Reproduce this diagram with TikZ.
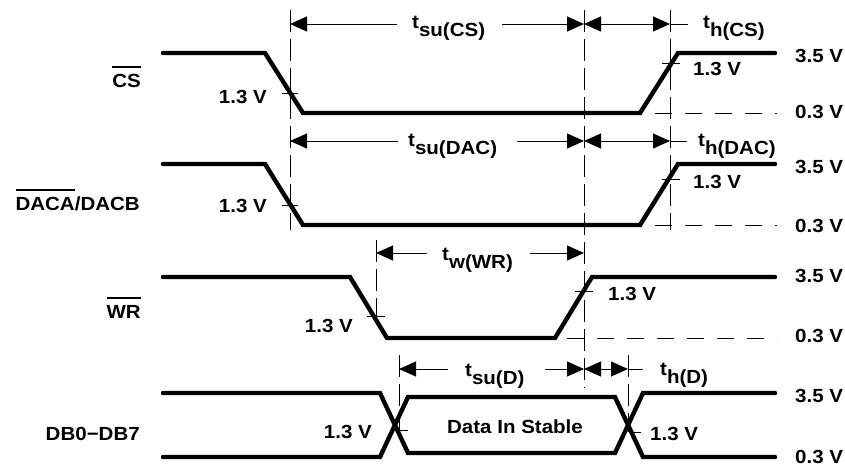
\documentclass[tikz,border=0pt]{standalone}
\usepackage{fontspec}
\setmainfont{Liberation Sans}[FakeStretch=1.08]
\usetikzlibrary{arrows.meta}
\newcommand\ovl[1]{\vbox{\hrule height 1.6pt\kern 6pt\hbox{#1}}}
\newcommand\tsub[1]{t\raisebox{-8pt}{#1}}
\begin{document}
\begin{tikzpicture}[x=1pt,y=-1pt,
  sig/.style={line width=4.4pt,line cap=round,line join=miter},
  vdash/.style={line width=1pt,dash pattern=on 22pt off 7pt},
  hdash/.style={line width=1pt,dash pattern=on 17pt off 13pt},
  dimline/.style={line width=1pt},
  dim/.style={dimline,-{Triangle[length=17pt,width=15pt]}},
  dimboth/.style={dimline,{Triangle[length=17pt,width=15pt]}-{Triangle[length=17pt,width=15pt]}},
  tick/.style={line width=1pt},
  lbl/.style={font=\fontsize{19}{21}\selectfont\bfseries,inner sep=0pt},
]
\useasboundingbox (0,0) rectangle (845,467);

% ---- dashed reference lines
\draw[vdash] (290,10) -- (290,230);
\draw[vdash] (584,10) -- (584,388);
\draw[vdash] (670,10) -- (670,230);
\draw[vdash] (376,240) -- (376,323);
\draw[vdash] (399,355) -- (399,432);
\draw[vdash] (628,355) -- (628,432);

\draw[hdash] (655,113) -- (777,113);
\draw[hdash] (655,225) -- (777,225);
\draw[hdash] (567,338) -- (777,338);

% ---- signals
\draw[sig] (163,53) -- (265,53) -- (303,113) -- (640,113) -- (678,53) -- (775,53);
\draw[sig] (163,164) -- (265,164) -- (303,225) -- (640,225) -- (678,164) -- (775,164);
\draw[sig] (163,277) -- (350,277) -- (387,338) -- (555,338) -- (592,277) -- (775,277);
\draw[sig] (163,393) -- (380,393) -- (408,453) -- (615,453) -- (643,393) -- (775,393);
\draw[sig] (163,457) -- (380,457) -- (408,397) -- (615,397) -- (643,457) -- (775,457);

% ---- 1.3 V ticks
\draw[tick] (282,93) -- (298,93);
\draw[tick] (662,63) -- (680,63);
\draw[tick] (282,205) -- (298,205);
\draw[tick] (662,179) -- (680,179);
\draw[tick] (367,316) -- (385,316);
\draw[tick] (575,291) -- (593,291);
\draw[tick] (399,430) -- (408,430);
\draw[tick] (629,432) -- (641,432);

% ---- dimension arrows
\draw[dim] (397,24) -- (290,24);
\draw[dim] (502,24) -- (584,24);
\draw[dimboth] (584,24) -- (670,24);
\draw[dimline] (670,24) -- (688,24);

\draw[dim] (398,141) -- (290,141);
\draw[dim] (517,141) -- (584,141);
\draw[dimboth] (584,141) -- (670,141);
\draw[dimline] (670,141) -- (687,141);

\draw[dim] (427,253) -- (376,253);
\draw[dim] (530,253) -- (584,253);

\draw[dim] (448,369) -- (399,369);
\draw[dim] (545,369) -- (584,369);
\draw[dimboth] (584,369) -- (628,369);
\draw[dimline] (628,369) -- (643,369);

% ---- timing labels
\node[lbl,anchor=base west] (tsucs)  at (412,28)  {\tsub{su(CS)}};
\node[lbl,anchor=base west] (thcs)   at (703,28)  {\tsub{h(CS)}};
\node[lbl,anchor=base west] (tsudac) at (408,146) {\tsub{su(DAC)}};
\node[lbl,anchor=base west] (thdac)  at (698,146) {\tsub{h(DAC)}};
\node[lbl,anchor=base west] (twwr)   at (442,260) {\tsub{w(WR)}};
\node[lbl,anchor=base west] (tsud)   at (465,376) {\tsub{su(D)}};
\node[lbl,anchor=base west] (thd)    at (660,375) {\tsub{h(D)}};

% ---- signal names
\node[lbl,anchor=base east] (ncs)  at (141,87)  {\ovl{CS}};
\node[lbl,anchor=base east] (ndac) at (140,210) {\ovl{DACA}/DACB};
\node[lbl,anchor=base east] (nwr)  at (141,318) {\ovl{WR}};
\node[lbl,anchor=base east] (ndb)  at (140,440) {DB0−DB7};

% ---- 1.3 V labels
\node[lbl,anchor=base east] (l1) at (267,103) {1.3 V};
\node[lbl,anchor=base east] (l2) at (267,212) {1.3 V};
\node[lbl,anchor=base east] (l3) at (353,332) {1.3 V};
\node[lbl,anchor=base east] (l4) at (372,438) {1.3 V};
\node[lbl,anchor=base west] (r1) at (693,75)  {1.3 V};
\node[lbl,anchor=base west] (r2) at (693,188) {1.3 V};
\node[lbl,anchor=base west] (r3) at (608,300) {1.3 V};
\node[lbl,anchor=base west] (r4) at (650,440) {1.3 V};

\node[lbl,anchor=base] (data) at (515,433) {Data In Stable};

% ---- level labels
\node[lbl,anchor=base west] (h1) at (795,62)  {3.5 V};
\node[lbl,anchor=base west] (o1) at (795,118) {0.3 V};
\node[lbl,anchor=base west] (h2) at (795,173) {3.5 V};
\node[lbl,anchor=base west] (o2) at (795,232) {0.3 V};
\node[lbl,anchor=base west] (h3) at (795,282) {3.5 V};
\node[lbl,anchor=base west] (o3) at (795,342) {0.3 V};
\node[lbl,anchor=base west] (h4) at (795,402) {3.5 V};
\node[lbl,anchor=base west] (o4) at (795,463) {0.3 V};
\end{tikzpicture}
\end{document}
